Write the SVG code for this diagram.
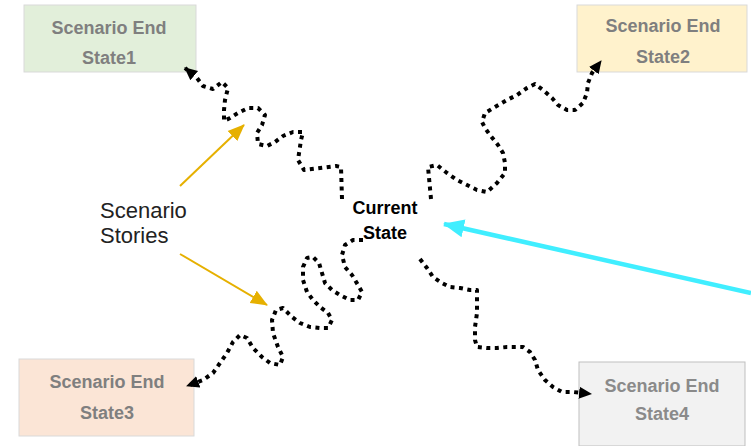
<svg xmlns="http://www.w3.org/2000/svg" width="751" height="446" viewBox="0 0 751 446">
<defs>
<style>
.box{stroke:#d9d9d9;stroke-width:1}
.bt{font-family:"Liberation Sans",Arial,sans-serif;font-weight:bold;font-size:18px;fill:#7f7f7f;text-anchor:middle}
.bt4{fill:#8a8a8a}
.dot{fill:none;stroke:#000;stroke-width:4;stroke-dasharray:4 4.5;stroke-linejoin:round;marker-end:url(#ah)}
.lbl{font-family:"Liberation Sans",Arial,sans-serif;font-size:22px;fill:#222}
.cur{font-family:"Liberation Sans",Arial,sans-serif;font-weight:bold;font-size:18px;fill:#000;text-anchor:middle}
</style>
<marker id="ah" markerUnits="userSpaceOnUse" markerWidth="14" markerHeight="14" refX="12" refY="7" orient="auto">
<path d="M0,1 L13,7 L0,13 Z" fill="#000"/>
</marker>
<marker id="ay" markerUnits="userSpaceOnUse" markerWidth="18" markerHeight="16" refX="16" refY="8" orient="auto">
<path d="M0,1 L17,8 L0,15 Z" fill="#e6b000"/>
</marker>
<marker id="ac" markerUnits="userSpaceOnUse" markerWidth="22" markerHeight="20" refX="20" refY="10" orient="auto">
<path d="M0,1 L21,10 L0,19 Z" fill="#40eeff"/>
</marker>
</defs>
<rect width="751" height="446" fill="#fff"/>
<g id="state1">
<rect class="box" x="24" y="5" width="172" height="67" fill="#e2efda"/>
<text class="bt" x="109" y="34">Scenario End</text>
<text class="bt" x="109" y="64">State1</text>
</g>
<g id="state2">
<rect class="box" x="577" y="5" width="170" height="67" fill="#fff2cc"/>
<text class="bt" x="663" y="32">Scenario End</text>
<text class="bt" x="663" y="63">State2</text>
</g>
<g id="state3">
<rect class="box" x="19" y="359" width="175" height="77" fill="#fbe5d6"/>
<text class="bt" x="107" y="388">Scenario End</text>
<text class="bt" x="107" y="419">State3</text>
</g>
<g id="state4">
<rect x="579" y="362" width="166" height="84" fill="#f2f2f2" stroke="#bfbfbf" stroke-width="1"/>
<text class="bt bt4" x="662" y="392">Scenario End</text>
<text class="bt bt4" x="662" y="420">State4</text>
</g>
<g id="current">
<text class="cur" x="385" y="214">Current</text>
<text class="cur" x="385" y="239">State</text>
</g>
<g id="stories">
<text class="lbl" x="100" y="218">Scenario</text>
<text class="lbl" x="100" y="243">Stories</text>
</g>
<g id="connectors">
<polyline class="dot" points="342,199 341,167 336,166 304,170 298,160 301,140 303,132 293,132 283,136 275,142 267,146 258,144 257,133 262,125 265,115 258,108 248,108 238,113 230,118 224,121 224,110 225,100 228,88 222,82 213,89 203,86 197,78 185,68"/>
<polyline class="dot" points="431,199 428,167 437,165 447,173 457,180 467,185 477,190 487,192 497,183 505,173 505,163 503,153 498,145 490,135 485,128 482,122 485,113 495,107 507,100 517,95 527,88 535,84 543,90 552,98 558,105 567,110 575,110 583,103 587,93 588,83 592,73 601,61"/>
<polyline class="dot" points="363,240 353,240 345,245 342,255 345,267 352,275 358,285 362,292 358,300 350,300 340,295 332,290 325,283 322,273 319,263 313,257 307,258 303,267 303,280 307,292 313,300 320,307 328,313 332,320 328,328 320,328 310,327 300,323 292,317 283,308 276,310 272,320 273,333 278,347 283,357 280,365 270,363 262,357 253,348 247,338 240,335 233,342 227,353 220,363 213,373 203,380 187,386"/>
<polyline class="dot" points="420,259 427,268 433,277 442,283 450,287 460,288 470,290 477,290 477,300 477,313 475,327 475,340 477,347 487,348 497,348 507,347 517,347 523,347 530,352 535,360 538,370 545,380 553,387 562,392 573,392 591,394"/>
<line x1="180" y1="186" x2="244" y2="125" stroke="#e6b000" stroke-width="2" marker-end="url(#ay)"/>
<line x1="180" y1="254" x2="267" y2="305" stroke="#e6b000" stroke-width="2" marker-end="url(#ay)"/>
<line x1="751" y1="293" x2="444" y2="224" stroke="#40eeff" stroke-width="4.5" marker-end="url(#ac)"/>
</g>
</svg>
